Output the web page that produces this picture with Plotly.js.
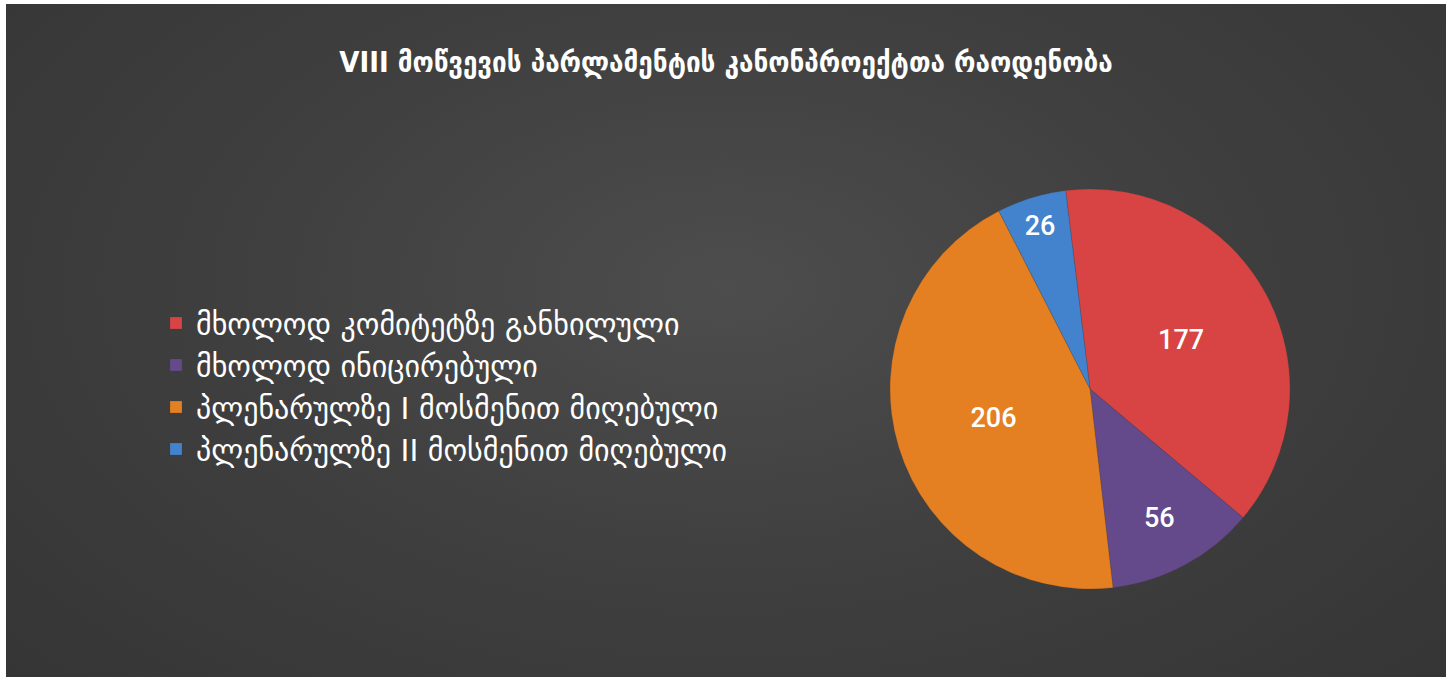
<!DOCTYPE html>
<html>
<head>
<meta charset="utf-8">
<script src="https://cdn.plot.ly/plotly-3.0.1.min.js"></script>
<style>
  html, body { margin: 0; padding: 0; background: #ffffff; width: 1451px; height: 681px; overflow: hidden; }
  #panel {
    position: absolute; left: 6px; top: 4px; width: 1440px; height: 673px;
    background: radial-gradient(ellipse 75% 95% at 50% 42%, #4d4d4d 0%, #3f3f3f 45%, #333333 100%);
  }
  #chart { width: 1440px; height: 673px; }
</style>
</head>
<body>
<div id="panel"><div id="chart"></div></div>
<script>
const categories = [
  "მხოლოდ კომიტეტზე განხილული",
  "მხოლოდ ინიცირებული",
  "პლენარულზე I მოსმენით მიღებული",
  "პლენარულზე II მოსმენით მიღებული"
];
const values = [177, 56, 206, 26];
const colors = ["#D74443", "#644A8B", "#E47F22", "#4382CC"];
const titleText = "VIII მოწვევის პარლამენტის კანონპროექტთა რაოდენობა";

const trace = {
  type: "pie",
  labels: categories,
  values: values,
  sort: false,
  direction: "clockwise",
  rotation: -7,
  textinfo: "value",
  textposition: "inside",
  insidetextorientation: "horizontal",
  insidetextfont: { color: "#ffffff", size: 27, weight: 500, family: "Roboto, DejaVu Sans, sans-serif" },
  marker: { colors: colors, line: { color: "rgba(60,60,60,0.4)", width: 0.5 } },
  domain: { x: [884/1440, 1284/1440], y: [88/673, 488/673] },
  hoverinfo: "label+value+percent"
};

const layout = {
  width: 1440,
  height: 673,
  margin: { l: 0, r: 0, t: 0, b: 0 },
  paper_bgcolor: "rgba(0,0,0,0)",
  plot_bgcolor: "rgba(0,0,0,0)",
  showlegend: true,
  title: {
    text: titleText,
    x: 0.5, xanchor: "center",
    y: 1 - 58/673, yanchor: "middle",
    font: { color: "#ffffff", size: 29, weight: "bold", family: "DejaVu Sans Condensed, DejaVu Sans, sans-serif" }
  },
  legend: {
    x: 150/1440, xanchor: "left",
    y: 1 - 382/673, yanchor: "middle",
    bgcolor: "rgba(0,0,0,0)",
    font: { color: "#ffffff", size: 30, family: "DejaVu Sans, sans-serif" },
    traceorder: "normal"
  }
};

Plotly.newPlot("chart", [trace], layout, { displayModeBar: false, staticPlot: true });
</script>
</body>
</html>
